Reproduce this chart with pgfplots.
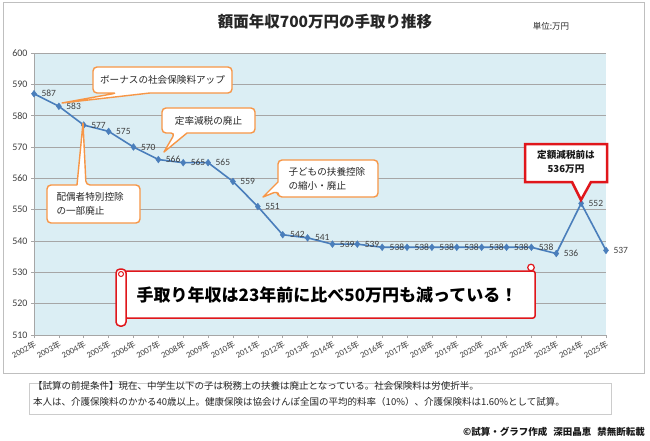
\documentclass[border=0pt]{standalone}
\usepackage{fontspec}
\setmainfont{Carlito}
\newfontfamily\jp{Noto Sans CJK JP}
\usepackage{pgfplots}
\pgfplotsset{compat=1.18}
\definecolor{bgblue}{HTML}{DBEEF4}
\definecolor{lineblue}{HTML}{4A7EBB}
\definecolor{corange}{HTML}{F79646}
\definecolor{cred}{HTML}{E0161B}
\definecolor{gridgray}{HTML}{A6A6A6}
\definecolor{txt}{HTML}{404040}
\begin{document}
\begin{tikzpicture}
\fill[white] (0pt,0pt) rectangle (650pt,-441pt);
\draw[gray!50, line width=0.8pt] (3pt,-2.5pt) rectangle (644pt,-373pt);
\begin{axis}[at={(34pt,-335pt)}, anchor=south west, scale only axis, width=572pt, height=282pt,
 xmin=0, xmax=23, ymin=510, ymax=600,
 axis background/.style={fill=bgblue},
 axis x line*=bottom, axis y line*=left,
 axis line style={gridgray, line width=0.6pt},
 xtick={0,...,23},
 xticklabels={2002{\jp 年},2003{\jp 年},2004{\jp 年},2005{\jp 年},2006{\jp 年},2007{\jp 年},2008{\jp 年},2009{\jp 年},2010{\jp 年},2011{\jp 年},2012{\jp 年},2013{\jp 年},2014{\jp 年},2015{\jp 年},2016{\jp 年},2017{\jp 年},2018{\jp 年},2019{\jp 年},2020{\jp 年},2021{\jp 年},2022{\jp 年},2023{\jp 年},2024{\jp 年},2025{\jp 年}},
 ytick={510,520,...,600},
 ymajorgrids, grid style={gridgray, line width=0.6pt},
 tick style={gridgray, line width=0.6pt}, tick align=outside, major tick length=3pt,
 /pgf/number format/assume math mode=true,
 yticklabel style={font=\fontsize{10}{12}\selectfont, text=txt},
 xticklabel style={font=\fontsize{8.6}{9}\selectfont, text=txt, rotate=28, anchor=north east, inner sep=1pt},
 clip=false,
]
\addplot[lineblue, line width=1.6pt, mark=diamond*, mark size=3.4pt,
  mark options={fill=lineblue, line width=0.4pt},
  nodes near coords, point meta=y,
  nodes near coords style={anchor=west, xshift=4pt, font=\fontsize{9.5}{11}\selectfont, text=txt}]
 coordinates {(0,587) (1,583) (2,577) (3,575) (4,570) (5,566) (6,565) (7,565) (8,559) (9,551) (10,542) (11,541) (12,539) (13,539) (14,538) (15,538) (16,538) (17,538) (18,538) (19,538) (20,538) (21,536) (22,552) (23,537)};
\end{axis}
\begin{scope}[x=1pt,y=1pt]
\tikzset{callout/.style={fill=white, draw=corange, line width=1.4pt, line join=round}}
% callout 1
\draw[callout] (117,-93) -- (62,-103) -- (150,-93) [rounded corners=4pt] -- (232,-93) -- (232,-67) -- (93,-67) -- (93,-93) -- cycle;
\node[font=\jp\fontsize{9.6}{11}\selectfont, text=black!85] at (162.5,-80) {ボーナスの社会保険料アップ};
% callout 2
\draw[callout] (175,-133) -- (164,-152) -- (187,-133) [rounded corners=4pt] -- (255,-133) -- (255,-108) -- (162,-108) -- (162,-133) -- cycle;
\node[font=\jp\fontsize{9.6}{11}\selectfont, text=black!85] at (208.5,-120.5) {定率減税の廃止};
% callout 3
\draw[callout] (86,-185) -- (83,-123) -- (77,-185) [rounded corners=4pt] -- (47,-185) -- (47,-223) -- (140,-223) -- (140,-185) -- cycle;
\node[anchor=west, align=left, font=\jp\fontsize{9.6}{13.5}\selectfont, text=black!85] at (53,-204) {配偶者特別控除\\の一部廃止};
% callout 4
\draw[callout] (278,-191) -- (263,-197) -- (278,-182) [rounded corners=4pt] -- (278,-160) -- (378,-160) -- (378,-197) -- (278,-197) -- cycle;
\node[anchor=west, align=left, font=\jp\fontsize{9.6}{13.5}\selectfont, text=black!85] at (285,-179) {子どもの扶養控除\\の縮小・廃止};
% callout 5
\draw[fill=white, draw=cred, line width=2.5pt, line join=miter] (572,-182) -- (581,-200) -- (591,-182) -- (607,-182) -- (607,-144) -- (525,-144) -- (525,-182) -- cycle;
\node[font=\jp\bfseries\fontsize{9.6}{13.5}\selectfont, align=center, text=black!90] at (566,-162) {定額減税前は\\536万円};
% big scroll box
\draw[cred, fill=white, line width=1.5pt, rounded corners=2pt] (125,-271) rectangle (535,-318);
\draw[cred, fill=white, line width=1.5pt, rounded corners=4pt] (116,-269) rectangle (126,-326);
\draw[cred, fill=white, line width=1pt] (121,-274) circle (2.5);
\draw[cred, fill=white, line width=1.2pt] (531,-267.5) circle (3.3);
\node[font=\jp\bfseries\fontsize{17}{20}\selectfont] at (327,-295) {手取り年収は23年前に比べ50万円も減っている！};
% titles
\node[font=\jp\bfseries\fontsize{15.5}{18}\selectfont, text=black!85] at (325,-22) {額面年収700万円の手取り推移};
\node[font=\jp\fontsize{8.5}{10}\selectfont, text=black!85] at (551,-26) {単位:万円};
% notes
\draw[gray!40, line width=0.6pt] (29,-383) rectangle (611,-414);
\node[anchor=west, align=left, font=\jp\fontsize{9.5}{16}\selectfont, text=black!85, inner sep=0pt] at (33,-394) {【試算の前提条件】現在、中学生以下の子は税務上の扶養は廃止となっている。社会保険料は労使折半。\\本人は、介護保険料のかかる40歳以上。健康保険は協会けんぽ全国の平均的料率（10\%）、介護保険料は1.60\%として試算。};
\node[anchor=east, font=\jp\bfseries\fontsize{9.5}{11}\selectfont, text=black!90, inner sep=0pt] at (645,-432) {©試算・グラフ作成\hspace{6pt}深田晶恵\hspace{6pt}禁無断転載};
\end{scope}
\end{tikzpicture}
\end{document}
